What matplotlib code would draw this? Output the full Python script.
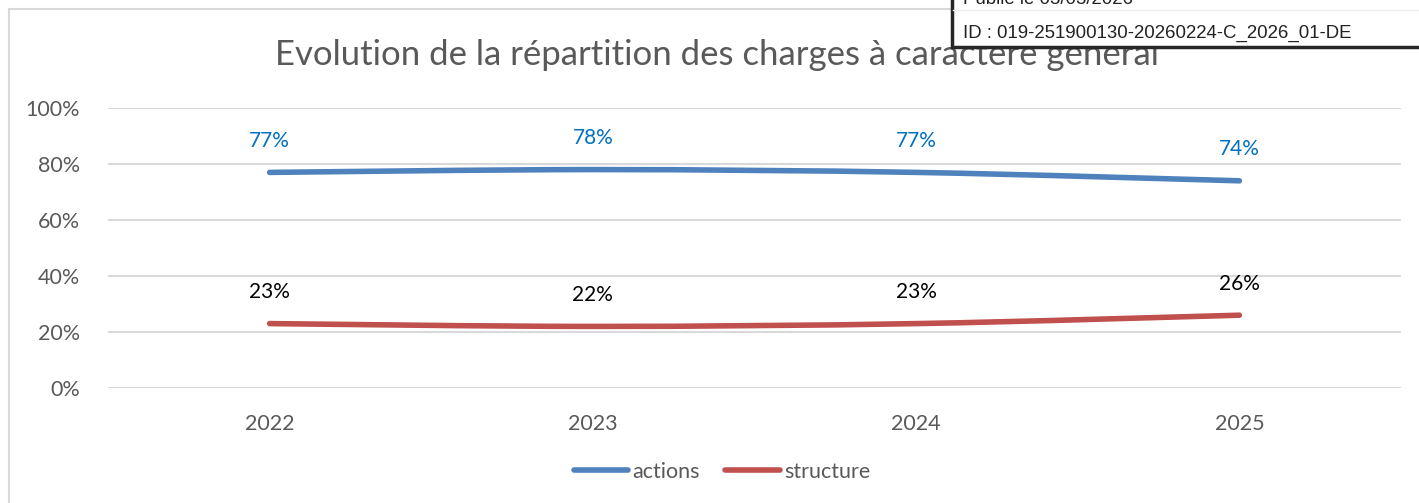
import matplotlib
matplotlib.use("Agg")
import matplotlib.pyplot as plt
from matplotlib.path import Path
from matplotlib.patches import PathPatch, Rectangle
from matplotlib.lines import Line2D
import numpy as np

years = ["2022", "2023", "2024", "2025"]
actions = [77, 78, 77, 74]
structure = [23, 22, 23, 26]
yticks = [0, 20, 40, 60, 80, 100]

title = "Evolution de la répartition des charges à caractère général"
stamp_line1 = "Publié le 03/03/2026"
stamp_line2 = "ID : 019-251900130-20260224-C_2026_01-DE"

BLUE = "#4F81BD"
RED = "#C0504D"
GRAY = "#595959"
FONT = ["Lato", "DejaVu Sans"]

plt.rcParams["font.family"] = FONT

fig = plt.figure(figsize=(14.19, 5.03), dpi=100)
ax = fig.add_axes([108 / 1419, 1 - 388 / 503, (1401 - 108) / 1419, 280 / 503])

x = np.arange(len(years))


def smooth_path(xs, ys):
    # Catmull-Rom style smoothing (Excel smoothed line) as cubic Bezier
    pts = np.column_stack([xs, ys]).astype(float)
    n = len(pts)
    verts = [pts[0]]
    codes = [Path.MOVETO]
    t = 1 / 6
    for i in range(n - 1):
        p0 = pts[i - 1] if i > 0 else pts[i]
        p1 = pts[i]
        p2 = pts[i + 1]
        p3 = pts[i + 2] if i + 2 < n else pts[i + 1]
        c1 = p1 + (p2 - p0) * t
        c2 = p2 - (p3 - p1) * t
        verts += [c1, c2, p2]
        codes += [Path.CURVE4] * 3
    return Path(verts, codes)


for vals, col in [(actions, BLUE), (structure, RED)]:
    patch = PathPatch(smooth_path(x, vals), facecolor="none", edgecolor=col,
                      lw=4, capstyle="round", joinstyle="round", zorder=3)
    ax.add_patch(patch)

for xi, v in zip(x, actions):
    ax.annotate(f"{v}%", (xi, v), xytext=(0, 15.5), textcoords="offset points",
                ha="center", va="bottom", color="#0070C0", fontsize=15)
for xi, v in zip(x, structure):
    ax.annotate(f"{v}%", (xi, v), xytext=(0, 15.5), textcoords="offset points",
                ha="center", va="bottom", color="black", fontsize=15)

ax.set_xlim(-0.5, len(years) - 0.5)
ax.set_ylim(0, 100)
ax.set_yticks(yticks)
ax.set_yticklabels([f"{t}%" for t in yticks])
ax.set_xticks(x)
ax.set_xticklabels(years)
ax.tick_params(axis="both", length=0, colors=GRAY, labelsize=15.5)
ax.tick_params(axis="y", pad=20)
ax.tick_params(axis="x", pad=19)
ax.grid(axis="y", color="#D9D9D9", lw=1.5)
ax.set_axisbelow(True)
for s in ax.spines.values():
    s.set_visible(False)

fig.text(717 / 1419, 1 - 55 / 503, title, ha="center", va="center",
         fontsize=25, color=GRAY)

handles = [Line2D([], [], color=BLUE, lw=4, solid_capstyle="round"),
           Line2D([], [], color=RED, lw=4, solid_capstyle="round")]
fig.legend(handles, ["actions", "structure"], loc="center",
           bbox_to_anchor=(722 / 1419, 1 - 472 / 503), ncol=2, frameon=False,
           fontsize=15.5, labelcolor=GRAY, handlelength=2.55, handletextpad=0.2,
           columnspacing=1.15)

# chart area border
fig.patches.append(Rectangle((9 / 1419, -0.1), 1.2, 1 - 9 / 503 + 0.1,
                             transform=fig.transFigure, fill=False,
                             edgecolor="#D9D9D9", lw=1.5, zorder=0))

# stamp box top right
fig.patches.append(Rectangle((952 / 1419, 1 - 47 / 503), 0.5, 0.2,
                             transform=fig.transFigure, facecolor="white",
                             edgecolor="#262626", lw=2.5, zorder=5))
fig.add_artist(Line2D([953 / 1419, 1], [1 - 10 / 503, 1 - 10 / 503],
                      transform=fig.transFigure, color="#EEEEEE", lw=1, zorder=6))
fig.text(963 / 1419, 1 - 0 / 503, stamp_line1, ha="left", va="center",
         fontsize=13.4, color="#222222", family=["Liberation Sans", "DejaVu Sans"],
         zorder=7)
fig.text(963 / 1419, 1 - 33 / 503, stamp_line2, ha="left", va="center",
         fontsize=13.4, color="#222222", family=["Liberation Sans", "DejaVu Sans"],
         zorder=7)

fig.savefig("out.png", dpi=100, facecolor="white")
